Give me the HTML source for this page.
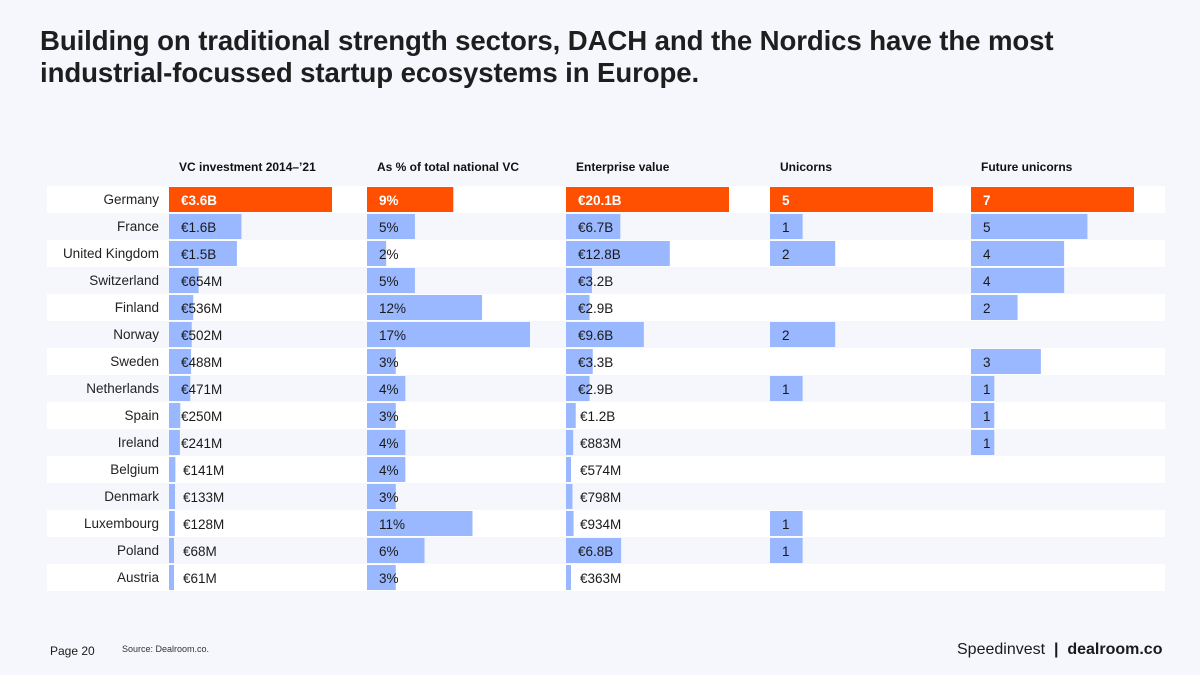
<!DOCTYPE html>
<html><head><meta charset="utf-8"><style>
body{margin:0;width:1200px;height:675px;background:#f6f7fc;font-family:"Liberation Sans",sans-serif;position:relative;overflow:hidden;color:#1a1a1a}
h1{position:absolute;left:40px;top:25px;margin:0;font-size:27.6px;line-height:32px;font-weight:bold;color:#1e1e1e;letter-spacing:-0.1px}
.abs{position:absolute}
</style></head><body>
<h1>Building on traditional strength sectors, DACH and the Nordics have the most<br>industrial-focussed startup ecosystems in Europe.</h1>
<svg id="chart" class="abs" style="left:0;top:0" width="1200" height="675"></svg>
<div class="abs" style="left:50px;top:644px;font-size:12px">Page 20</div>
<div class="abs" style="left:122px;top:644px;font-size:9px;color:#333">Source: Dealroom.co.</div>
<div class="abs" style="left:957px;top:641px;font-size:16px">Speedinvest &nbsp;<b>|</b>&nbsp; <b>dealroom.co</b></div>
<script>
const countries=["Germany","France","United Kingdom","Switzerland","Finland","Norway","Sweden","Netherlands","Spain","Ireland","Belgium","Denmark","Luxembourg","Poland","Austria"];
const headers=["VC investment 2014–’21","As % of total national VC","Enterprise value","Unicorns","Future unicorns"];
const vcInvest=[3600,1600,1500,654,536,502,488,471,250,241,141,133,128,68,61];
const vcLabels=["€3.6B","€1.6B","€1.5B","€654M","€536M","€502M","€488M","€471M","€250M","€241M","€141M","€133M","€128M","€68M","€61M"];
const pctVC=[9,5,2,5,12,17,3,4,3,4,4,3,11,6,3];
const entValue=[20.1,6.7,12.8,3.2,2.9,9.6,3.3,2.9,1.2,0.883,0.574,0.798,0.934,6.8,0.363];
const evLabels=["€20.1B","€6.7B","€12.8B","€3.2B","€2.9B","€9.6B","€3.3B","€2.9B","€1.2B","€883M","€574M","€798M","€934M","€6.8B","€363M"];
const unicorns=[5,1,2,0,0,2,0,1,0,0,0,0,1,1,0];
const futureUnicorns=[7,5,4,4,2,0,3,1,1,1,0,0,0,0,0];
const NS="http://www.w3.org/2000/svg";
const svg=document.getElementById('chart');
function mk(t,a){const e=document.createElementNS(NS,t);for(const k in a)e.setAttribute(k,a[k]);svg.appendChild(e);return e;}
const top0=186,pitch=27,barW=163;
function rowY(i){return top0+i*pitch;}
countries.forEach((c,i)=>{
  const r=mk('rect',{x:47,y:rowY(i),width:1118,height:pitch,fill:i%2==0?'#ffffff':'#f5f7fc'});
  
  
  const t=mk('text',{x:159,y:rowY(i)+18,'text-anchor':'end','font-size':13.5,fill:'#222'});
  t.textContent=c;
  
  
});
const cols=[
 {x0:169,vals:vcInvest,labels:vcLabels,max:3600,minW:5},
 {x0:367,vals:pctVC,labels:pctVC.map(v=>v+'%'),max:17,minW:0},
 {x0:566,vals:entValue,labels:evLabels,max:20.1,minW:5},
 {x0:770,vals:unicorns,labels:unicorns.map(String),max:5,minW:0},
 {x0:971,vals:futureUnicorns,labels:futureUnicorns.map(String),max:7,minW:0}];
cols.forEach((col,ci)=>{
  const h=mk('text',{x:col.x0+10,y:171,'font-size':12,'font-weight':'bold',fill:'#111'});
  h.textContent=headers[ci];
  
  
  col.vals.forEach((v,i)=>{
    if(v<=0)return;
    const w=Math.max(col.minW,v/col.max*barW);
    const b=mk('rect',{x:col.x0,y:rowY(i)+1,width:w,height:pitch-2,fill:i==0?'#ff4f00':'#99b8ff'});
    
    
    const small=w<10;
    const t=mk('text',{x:col.x0+(small?14:12),y:rowY(i)+19,'font-size':13.5,fill:i==0?'#fff':'#1a1a1a','font-weight':i==0?'bold':'normal'});
    t.textContent=col.labels[i];
    
    
  });
});
</script>
</body></html>
